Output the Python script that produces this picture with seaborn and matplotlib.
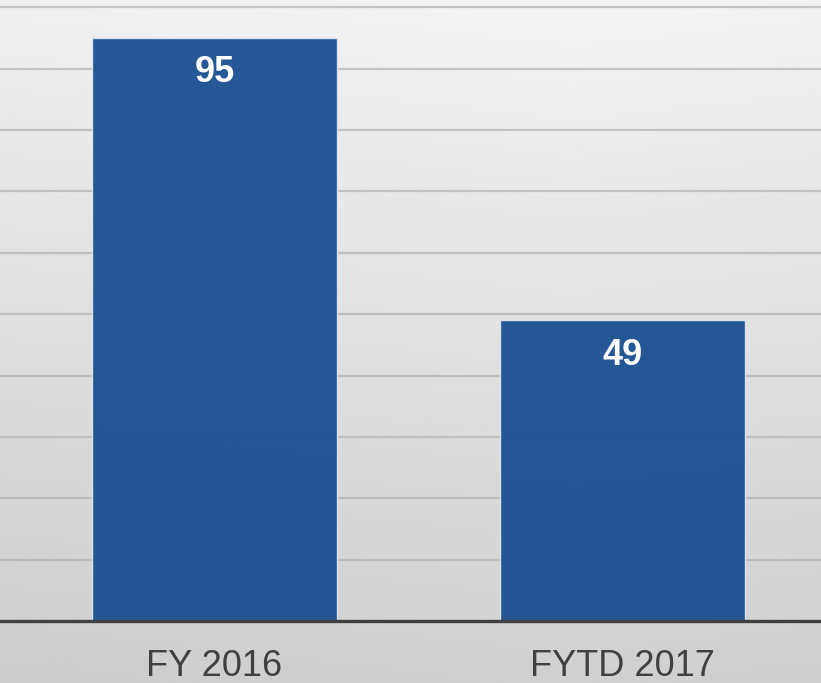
import numpy as np
import pandas as pd
import matplotlib
matplotlib.use("Agg")
import matplotlib.pyplot as plt
import seaborn as sns

categories = ["FY 2016", "FYTD 2017"]
values = [95, 49]

df = pd.DataFrame({"period": categories, "count": values})

sns.set_style("white")
plt.rcParams["font.family"] = ["Liberation Sans", "DejaVu Sans"]

fig = plt.figure(figsize=(8.21, 6.83), dpi=100)

# gradient background, light at top to darker grey at bottom
bg = fig.add_axes([0, 0, 1, 1], zorder=0)
yy = np.linspace(0, 1, 300)[:, None]
xx = np.linspace(0, 1, 300)[None, :]
shade = 0.955 - 0.14 * yy - 0.02 * np.abs(xx - 0.7)
bg.imshow(shade, cmap="gray", vmin=0, vmax=1, aspect="auto", extent=[0, 1, 0, 1], origin="upper")
bg.axis("off")

ax = fig.add_axes([0, 0.0908, 1, 0.9092], zorder=1)
ax.patch.set_alpha(0)

sns.barplot(data=df, x="period", y="count", order=categories, color="#1b4f91",
            width=0.6, saturation=1, alpha=0.95, edgecolor="#dfe6ee", linewidth=1, ax=ax)

ax.set_xlim(-0.526, 1.487)
ax.set_ylim(0, 101.2)
ax.set_yticks(np.arange(10, 101, 10))
ax.yaxis.grid(True, color="#b4b4b4", linewidth=1.6, alpha=0.75)
ax.set_axisbelow(True)
ax.tick_params(axis="y", left=False, labelleft=False)
ax.tick_params(axis="x", bottom=False, pad=16.5, labelsize=26, labelcolor="#404040")
ax.set_xlabel("")
ax.set_ylabel("")
for s in ["top", "right", "left"]:
    ax.spines[s].set_visible(False)
ax.spines["bottom"].set_color("#404040")
ax.spines["bottom"].set_linewidth(2.4)

for i, v in enumerate(values):
    ax.annotate(str(v), (i, v), xytext=(0, -25), textcoords="offset points",
                ha="center", va="center", fontsize=26, fontweight="bold", color="white")

fig.savefig("out.png", dpi=100)
